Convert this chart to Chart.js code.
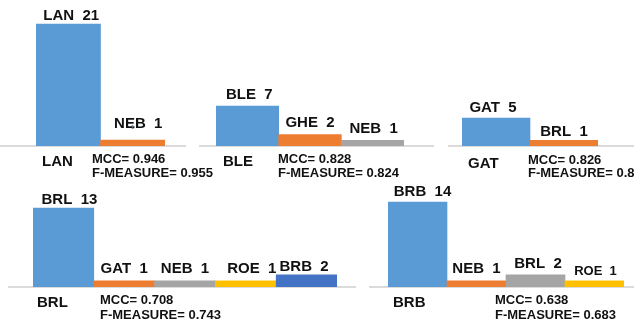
<!DOCTYPE html>
<html>
<head>
<meta charset="utf-8">
<script src="https://cdn.jsdelivr.net/npm/chart.js@4"></script>
<style>
  html, body { margin: 0; padding: 0; background: #ffffff; }
  #wrap { position: relative; width: 634px; height: 327px; overflow: hidden; }
  #wrap canvas { position: absolute; left: 0; top: 0; }
</style>
</head>
<body>
<div id="wrap">
  <canvas id="c0" width="634" height="327"></canvas>
  <canvas id="c1" width="634" height="327"></canvas>
  <canvas id="c2" width="634" height="327"></canvas>
  <canvas id="c3" width="634" height="327"></canvas>
  <canvas id="c4" width="634" height="327"></canvas>
</div>
<script>
// Class assigned to each group, with the classes its samples were predicted as
const groupNames = ['LAN', 'BLE', 'GAT', 'BRL', 'BRB'];

const lanCats = ['LAN', 'NEB'];
const lanVals = [21, 1];

const bleCats = ['BLE', 'GHE', 'NEB'];
const bleVals = [7, 2, 1];

const gatCats = ['GAT', 'BRL'];
const gatVals = [5, 1];

const brlCats = ['BRL', 'GAT', 'NEB', 'ROE', 'BRB'];
const brlVals = [13, 1, 1, 1, 2];

const brbCats = ['BRB', 'NEB', 'BRL', 'ROE'];
const brbVals = [14, 1, 2, 1];

// Scores per group
const mccVals = ['0.946', '0.828', '0.826', '0.708', '0.638'];
const fMeasureVals = ['0.955', '0.824', '0.8', '0.743', '0.683'];

const palette = ['#5b9bd5', '#ed7d31', '#a5a5a5', '#ffc000', '#4472c4'];
const FONT = '"Liberation Sans", Arial, Helvetica, sans-serif';

// Placement of each small panel on the page
const panels = [
  { cats: lanCats, vals: lanVals, bars: [36, 165], top: 1, base: 146, yMax: 25,
    axis: [0, 186], title: [42, 161], stats: [92, 158, 172],
    lift: [10, 17.5], dx: [3, 5.5], size: [15, 15], tag: 1 },
  { cats: bleCats, vals: bleVals, bars: [216, 404], top: 1, base: 146, yMax: 25.4,
    axis: [199, 434], title: [223, 161], stats: [278, 158.5, 172],
    lift: [12, 13, 13], dx: [2, 0, 1], size: [15, 15, 15] },
  { cats: gatCats, vals: gatVals, bars: [462, 598], top: 1, base: 146, yMax: 25.9,
    axis: [448, 634], title: [468, 163], stats: [528, 159, 172],
    lift: [11, 10], dx: [-3, 0], size: [15, 15] },
  { cats: brlCats, vals: brlVals, bars: [33, 337], top: 170, base: 287, yMax: 19.3,
    axis: [8, 356], title: [37, 302], stats: [100, 299.5, 314.5],
    lift: [10, 13, 13, 13, 9.5], dx: [6, 0, 0, 6, -2.5], size: [15, 15, 15, 15, 15] },
  { cats: brbCats, vals: brbVals, bars: [388, 624], top: 170, base: 287, yMax: 19.3,
    axis: [369, 634], title: [393, 302], stats: [495, 299.5, 314.5],
    lift: [11, 13, 12, 11], dx: [5, 0, 2.5, 1], size: [15, 15, 15, 13] }
];

// Draw text so that its capital letters are centred on y
function capText(ctx, str, x, y, size, align, color) {
  ctx.save();
  ctx.font = 'bold ' + size + 'px ' + FONT;
  ctx.textAlign = align;
  ctx.textBaseline = 'alphabetic';
  ctx.fillStyle = color || '#111111';
  ctx.fillText(str, x, y + 0.358 * size);
  ctx.restore();
}

const panelDecor = {
  id: 'panelDecor',
  beforeDatasetsDraw(chart, args, opts) {
    const p = opts.panel;
    const ctx = chart.ctx;
    const yZero = chart.scales.y.getPixelForValue(0);
    ctx.save();
    ctx.strokeStyle = '#cfcfcf';
    ctx.lineWidth = 1.6;
    ctx.beginPath();
    ctx.moveTo(p.axis[0], yZero);
    ctx.lineTo(p.axis[1], yZero);
    ctx.stroke();
    ctx.restore();
  },
  afterDatasetsDraw(chart, args, opts) {
    const p = opts.panel;
    const idx = opts.index;
    const ctx = chart.ctx;
    const meta = chart.getDatasetMeta(0);
    meta.data.forEach((bar, i) => {
      const label = chart.data.labels[i] + '  ' + chart.data.datasets[0].data[i];
      capText(ctx, label, bar.x + p.dx[i], bar.y - p.lift[i], p.size[i], 'center');
    });
    if (p.tag !== undefined) {
      const bar = meta.data[p.tag];
      capText(ctx, String(chart.data.datasets[0].data[p.tag]), bar.x, bar.y - 13, 6, 'center', '#6d84a3');
    }
    capText(ctx, groupNames[idx], p.title[0], p.title[1], 15, 'left');
    capText(ctx, 'MCC= ' + mccVals[idx], p.stats[0], p.stats[1], 13, 'left');
    capText(ctx, 'F-MEASURE= ' + fMeasureVals[idx], p.stats[0], p.stats[2], 13, 'left');
  }
};

panels.forEach((p, idx) => {
  new Chart(document.getElementById('c' + idx), {
    type: 'bar',
    data: {
      labels: p.cats,
      datasets: [{
        data: p.vals,
        backgroundColor: p.vals.map((v, i) => palette[i]),
        borderWidth: 0,
        categoryPercentage: 1,
        barPercentage: 1
      }]
    },
    options: {
      responsive: false,
      animation: false,
      devicePixelRatio: 1,
      layout: {
        padding: { left: p.bars[0], right: 634 - p.bars[1], top: p.top, bottom: 327 - p.base }
      },
      scales: {
        x: { display: false },
        y: { display: false, min: 0, max: p.yMax }
      },
      plugins: {
        legend: { display: false },
        tooltip: { enabled: false },
        panelDecor: { panel: p, index: idx }
      }
    },
    plugins: [panelDecor]
  });
});
</script>
</body>
</html>
